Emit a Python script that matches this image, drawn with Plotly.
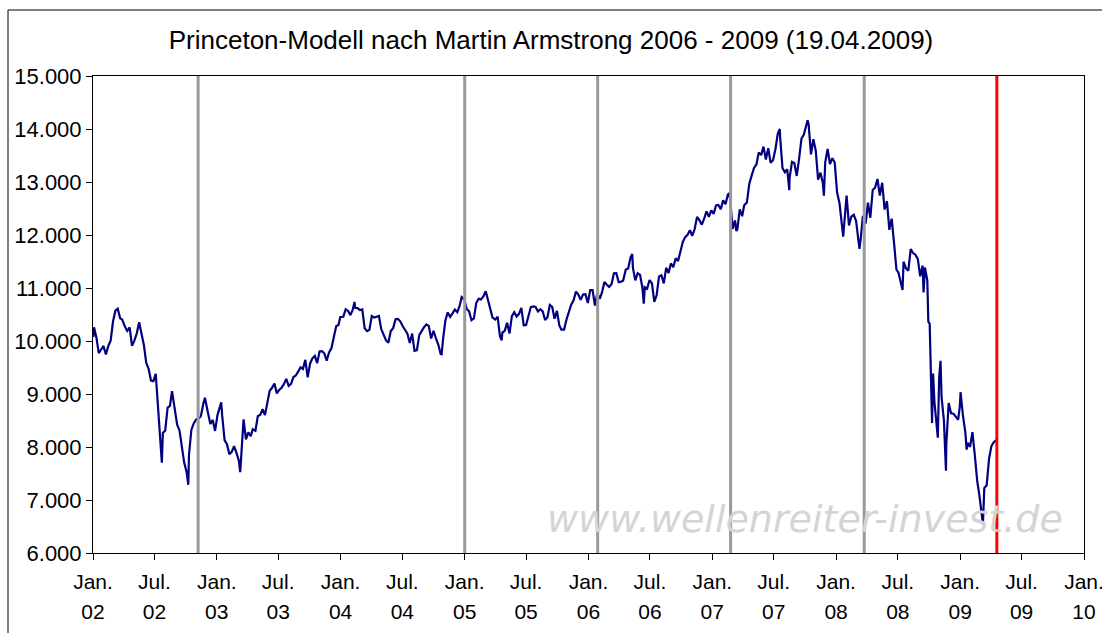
import plotly.graph_objects as go

# ---------------- data (Dow Jones Industrial Average) ----------------
d2002 = ["01-02","01-04","01-11","01-18","01-25","02-01","02-08","02-15","02-22","03-01","03-08","03-15","03-22","03-28",
         "04-05","04-12","04-19","04-26","05-03","05-10","05-17","05-24","05-31","06-07","06-14","06-21","06-28",
         "07-05","07-12","07-19","07-23","07-26","08-02","08-09","08-16","08-22","08-30","09-06","09-13","09-20","09-27",
         "10-04","10-09","10-11","10-18","10-25","11-01","11-08","11-15","11-22","11-27","12-06","12-13","12-20","12-27"]
v2002 = [10073,10259,10068,9771,9840,9907,9744,9903,10005,10368,10572,10608,10427,10404,
         10271,10190,10257,9910,10006,10141,10353,10105,9925,9589,9474,9253,9243,
         9380,8684,8019,7702,8264,8313,8745,8778,9053,8664,8427,8312,7986,7701,
         7528,7286,7850,8322,8444,8518,8537,8579,8805,8931,8645,8433,8512,8303]

d2003 = ["01-03","01-10","01-14","01-17","01-24","01-31","02-07","02-14","02-21","02-28","03-07","03-11","03-14","03-21","03-28",
         "04-04","04-11","04-17","04-25","05-02","05-09","05-16","05-23","05-30","06-06","06-13","06-20","06-27",
         "07-03","07-11","07-18","07-25","08-01","08-08","08-15","08-22","08-29","09-05","09-12","09-19","09-26",
         "10-03","10-10","10-17","10-24","10-31","11-07","11-14","11-21","11-28","12-05","12-12","12-19","12-26","12-31"]
v2003 = [8602,8785,8842,8587,8131,8054,7864,7909,8018,7891,7741,7524,7859,8522,8145,
         8277,8203,8338,8306,8583,8604,8713,8601,8850,9062,9117,9200,9011,
         9070,9119,9188,9285,9153,9191,9321,9349,9415,9503,9472,9644,9313,
         9572,9674,9721,9582,9801,9810,9768,9629,9782,9863,10042,10278,10305,10454]

d2004 = ["01-09","01-16","01-23","01-30","02-06","02-11","02-13","02-20","02-27","03-05","03-12","03-19","03-26",
         "04-02","04-09","04-16","04-23","04-30","05-07","05-14","05-21","05-28","06-04","06-11","06-18","06-25",
         "07-02","07-09","07-16","07-23","07-30","08-06","08-13","08-20","08-27","09-03","09-10","09-17","09-24",
         "10-01","10-08","10-15","10-22","10-25","10-29","11-05","11-12","11-19","11-26","12-03","12-10","12-17","12-23","12-31"]
v2004 = [10458,10600,10568,10488,10593,10737,10628,10620,10584,10596,10240,10186,10213,
         10470,10443,10452,10472,10225,10117,10012,9966,10188,10243,10410,10416,10371,
         10282,10213,10140,9962,10140,9815,9826,10111,10196,10260,10314,10285,10047,
         10193,10055,9933,9758,9750,10027,10387,10539,10456,10522,10592,10543,10661,10828,10783]

d2005 = ["01-07","01-14","01-21","01-28","02-04","02-11","02-18","02-25","03-04","03-11","03-18","03-24",
         "04-01","04-08","04-15","04-20","04-22","04-29","05-06","05-13","05-20","05-27","06-03","06-10","06-17","06-24",
         "07-01","07-08","07-15","07-22","07-29","08-05","08-12","08-19","08-26","09-02","09-09","09-16","09-23","09-30",
         "10-07","10-13","10-21","10-28","11-04","11-11","11-18","11-25","12-02","12-09","12-16","12-23","12-30"]
v2005 = [10603,10558,10393,10427,10716,10796,10785,10841,10940,10774,10629,10442,
         10404,10461,10087,10012,10157,10193,10345,10140,10471,10542,10460,10513,10623,10297,
         10303,10449,10640,10651,10641,10558,10600,10559,10397,10447,10679,10642,10419,10569,
         10292,10216,10215,10403,10531,10686,10766,10931,10878,10779,10876,10883,10718]

d2006 = ["01-06","01-13","01-20","01-27","02-03","02-10","02-17","02-24","03-03","03-10","03-17","03-24","03-31",
         "04-07","04-13","04-21","04-28","05-05","05-10","05-12","05-19","05-26","06-02","06-09","06-13","06-16","06-23","06-30",
         "07-07","07-14","07-21","07-28","08-04","08-11","08-18","08-25","09-01","09-08","09-15","09-22","09-29",
         "10-06","10-13","10-20","10-27","11-03","11-10","11-17","11-24","12-01","12-08","12-15","12-22","12-29"]
v2006 = [10959,10960,10667,10907,10793,10920,11115,11062,11022,11076,11279,11280,11109,
         11120,11138,11347,11367,11578,11642,11380,11144,11279,11247,11000,10706,11015,10989,11150,
         11090,10739,10868,11219,11240,11088,11381,11284,11464,11392,11560,11508,11679,
         11867,11960,12002,12090,11986,12108,12342,12280,12194,12307,12445,12343,12463]

d2007 = ["01-05","01-12","01-19","01-26","02-02","02-09","02-16","02-20","02-23","02-27","03-02","03-09","03-13","03-16","03-23","03-30",
         "04-05","04-13","04-20","04-27","05-04","05-11","05-18","05-25","06-01","06-08","06-15","06-22","06-29",
         "07-06","07-13","07-19","07-20","07-27","08-03","08-10","08-16","08-17","08-24","08-31","09-07","09-14","09-21","09-28",
         "10-05","10-09","10-12","10-19","10-26","11-02","11-09","11-16","11-23","11-26","11-30","12-07","12-14","12-21","12-28"]
v2007 = [12398,12556,12566,12487,12653,12581,12768,12786,12647,12216,12115,12277,12075,12110,12482,12354,
         12560,12612,12961,13121,13265,13327,13556,13507,13668,13424,13639,13361,13409,
         13612,13908,14000,13851,13266,13182,13240,12846,13079,13379,13358,13114,13442,13821,13896,
         14066,14165,14093,13522,13807,13596,13043,13177,12981,12743,13372,13626,13340,13450,13366]

d2008 = ["01-04","01-11","01-18","01-22","01-25","02-01","02-08","02-15","02-22","02-29","03-07","03-10","03-14","03-20","03-28",
         "04-04","04-11","04-18","04-25","05-02","05-09","05-16","05-23","05-30","06-06","06-13","06-20","06-27",
         "07-03","07-11","07-15","07-18","07-25","08-01","08-08","08-15","08-22","08-29","09-05","09-12","09-15","09-19","09-26","09-29",
         "10-03","10-10","10-13","10-17","10-24","10-27","10-31","11-04","11-07","11-14","11-20","11-21","11-28",
         "12-05","12-12","12-19","12-26","12-31"]
v2008 = [12800,12606,12099,11971,12207,12743,12182,12348,12381,12266,11894,11740,11951,12361,12216,
         12609,12325,12849,12891,13058,12745,12986,12480,12638,12097,12308,11843,11347,
         11288,11100,10963,11496,11370,11327,11734,11659,11628,11544,11220,11422,10917,11388,11143,10365,
         10325,8451,9387,8852,8378,8175,9325,9625,8943,8497,7552,8046,8829,
         8635,8629,8579,8515,8776]

d2009 = ["01-02","01-09","01-16","01-20","01-23","01-30","02-06","02-13","02-20","02-27","03-06","03-09","03-13","03-20","03-27",
         "04-03","04-09","04-17"]
v2009 = [9034,8599,8281,7949,8077,8001,8280,7850,7366,7063,6627,6547,7224,7279,7776,
         8018,8083,8131]

# Princeton model turning points (gray) and current date (red)
model_dates = ["2002-11-07", "2005-01-01", "2006-01-28", "2007-02-24", "2008-03-24"]
current_date = "2009-04-19"

# axis ticks
tick_dates = ["2002-01-01","2002-07-01","2003-01-01","2003-07-01","2004-01-01","2004-07-01",
              "2005-01-01","2005-07-01","2006-01-01","2006-07-01","2007-01-01","2007-07-01",
              "2008-01-01","2008-07-01","2009-01-01","2009-07-01","2010-01-01"]
tick_months = ["Jan.","Jul.","Jan.","Jul.","Jan.","Jul.","Jan.","Jul.","Jan.","Jul.",
               "Jan.","Jul.","Jan.","Jul.","Jan.","Jul.","Jan."]
tick_years = ["02","02","03","03","04","04","05","05","06","06","07","07","08","08","09","09","10"]

title_text = "Princeton-Modell nach Martin Armstrong 2006 - 2009 (19.04.2009)"
watermark = "www.wellenreiter-invest.de"

# ---------------- build ----------------
years = {2002: (d2002, v2002), 2003: (d2003, v2003), 2004: (d2004, v2004), 2005: (d2005, v2005),
         2006: (d2006, v2006), 2007: (d2007, v2007), 2008: (d2008, v2008), 2009: (d2009, v2009)}
dates, values = [], []
for yr, (ds, vs) in years.items():
    dates += [f"{yr}-{md}" for md in ds]
    values += vs

FONT = "Liberation Sans, Arial, sans-serif"
W, H = 1102, 633
L, R, T, B = 93, 18, 76, 80
pw, ph = W - L - R, H - T - B

fig = go.Figure()
fig.add_trace(go.Scatter(x=dates, y=values, mode="lines",
                         line=dict(color="#000080", width=2.2),
                         showlegend=False, hoverinfo="skip"))
# dummy trace on overlay axis for year labels
fig.add_trace(go.Scatter(x=[tick_dates[0]], y=[None], xaxis="x2", mode="lines",
                         showlegend=False, hoverinfo="skip"))

for d in model_dates:
    fig.add_shape(type="line", xref="x", yref="paper", x0=d, x1=d, y0=0, y1=1,
                  line=dict(color="#999999", width=3), layer="above")
fig.add_shape(type="line", xref="x", yref="paper", x0=current_date, x1=current_date, y0=0, y1=1,
              line=dict(color="#ff0000", width=3), layer="above")

# outer chart border
fig.add_shape(type="rect", xref="paper", yref="paper",
              x0=(8 - L) / pw, x1=(W + 10 - L) / pw,
              y0=(H - B - (H + 10)) / ph, y1=(H - B - 10) / ph,
              line=dict(color="#000000", width=1), layer="above")

fig.add_annotation(text=f"<i>{watermark}</i>", xref="paper", yref="paper",
                   x=(545 - L) / pw, y=(H - B - 519) / ph, xanchor="left", yanchor="middle",
                   showarrow=False, font=dict(family="DejaVu Sans", size=38, color="#d4d4d4"))

xr = [tick_dates[0], tick_dates[-1]]
fig.update_layout(
    width=W, height=H,
    margin=dict(l=L, r=R, t=T, b=B, autoexpand=False),
    paper_bgcolor="white", plot_bgcolor="white",
    font=dict(family=FONT, size=22, color="#000000"),
    separators=",.",
    title=dict(text=title_text, x=0.5, xref="container", xanchor="center",
               y=1 - 40 / H, yref="container", yanchor="middle",
               font=dict(family=FONT, size=26, color="#000000")),
    xaxis=dict(type="date", range=xr, tickmode="array", tickvals=tick_dates, ticktext=tick_months,
               showgrid=False, zeroline=False, showline=True, linecolor="#000000", linewidth=1,
               mirror=True, ticks="outside", ticklen=6, tickcolor="#000000", automargin=False,
               tickfont=dict(size=21), ticklabelstandoff=4, ticklabeloverflow="allow"),
    xaxis2=dict(type="date", range=xr, overlaying="x", anchor="y", side="bottom",
                tickmode="array", tickvals=tick_dates, ticktext=tick_years, automargin=False,
                showgrid=False, zeroline=False, showline=False, ticks="",
                tickfont=dict(size=21), ticklabelstandoff=44, ticklabeloverflow="allow"),
    yaxis=dict(range=[6000, 15000], dtick=1000, tickformat=",d", automargin=False,
               showgrid=False, zeroline=False, showline=True, linecolor="#000000", linewidth=1,
               mirror=True, ticks="outside", ticklen=6, tickcolor="#000000",
               tickfont=dict(size=22)),
)

fig.write_html("out.html", config={"displayModeBar": False},
               post_script="document.body.style.margin='0';document.body.style.overflow='hidden';")
